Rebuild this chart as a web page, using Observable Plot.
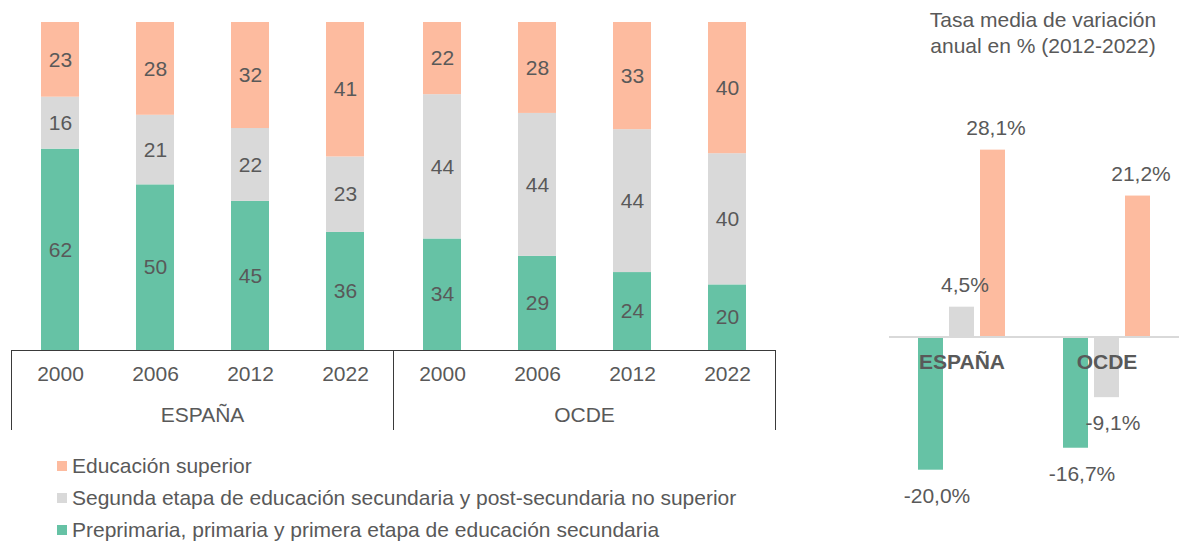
<!DOCTYPE html>
<html><head><meta charset="utf-8">
<script src="https://cdn.jsdelivr.net/npm/d3@7"></script>
<script src="https://cdn.jsdelivr.net/npm/@observablehq/plot@0.6"></script>
<style>
body{margin:0;background:#fff;font-family:"Liberation Sans",Arial,sans-serif;color:#595959;}
#wrap{position:relative;width:1179px;height:542px;overflow:hidden;}
#left{position:absolute;left:0;top:0;}
#right{position:absolute;left:880px;top:0;}
#title{position:absolute;left:880px;width:326px;top:7px;text-align:center;font-size:21px;line-height:26px;}
#legend{position:absolute;left:57px;top:450px;font-size:21px;}
.item{display:flex;align-items:center;height:32px;white-space:nowrap;}
.sw{width:10px;height:10px;margin-right:5px;flex:none;}
</style></head><body>
<div id="wrap">
  <div id="left"></div>
  <div id="right"></div>
  <div id="title">Tasa media de variación<br>anual en % (2012-2022)</div>
  <div id="legend"></div>
</div>
<script>
const countries = ["ESPAÑA", "OCDE"];
const years = ["2000", "2006", "2012", "2022"];
const categories = [
  "Preprimaria, primaria y primera etapa de educación secundaria",
  "Segunda etapa de educación secundaria y post-secundaria no superior",
  "Educación superior"
];
const colors = ["#66C2A5", "#D9D9D9", "#FDBB9F"];
const spainPrimary = [62, 50, 45, 36];
const spainSecondary = [16, 21, 22, 23];
const spainTertiary = [23, 28, 32, 41];
const oecdPrimary = [34, 29, 24, 20];
const oecdSecondary = [44, 44, 44, 40];
const oecdTertiary = [22, 28, 33, 40];
const spainChange = [-20.0, 4.5, 28.1];
const oecdChange = [-16.7, -9.1, 21.2];

const FONT = '"Liberation Sans", Arial, sans-serif';
const TXT = "#595959";
const FS = 21;

const share = [];
countries.forEach((c, ci) => years.forEach((y, yi) => {
  const vals = ci === 0
    ? [spainPrimary[yi], spainSecondary[yi], spainTertiary[yi]]
    : [oecdPrimary[yi], oecdSecondary[yi], oecdTertiary[yi]];
  categories.forEach((cat, k) => share.push({country: c, year: y, cat, value: vals[k]}));
}));

const leftH = 440, leftMB = 90;
const left = Plot.plot({
  width: 785, height: leftH,
  marginTop: 22, marginBottom: leftMB, marginLeft: 10, marginRight: 10,
  style: {fontFamily: FONT, fontSize: FS + "px", color: TXT, background: "white"},
  fx: {domain: countries, padding: 0, axis: null, label: null},
  x: {domain: years, paddingInner: 0.6, paddingOuter: 0.3, axis: null, label: null},
  y: {axis: null},
  color: {domain: categories, range: colors},
  marks: [
    Plot.barY(share, {fx: "country", x: "year", y: "value", fill: "cat", order: categories, offset: "normalize"}),
    Plot.text(share, Plot.stackY({fx: "country", x: "year", y: "value", z: "cat", text: "value",
      order: categories, offset: "normalize", fill: TXT, fontSize: FS})),
    Plot.text(years, {x: d => d, text: d => d, frameAnchor: "bottom", dy: 30, fill: TXT, fontSize: FS}),
    Plot.text(countries, {fx: d => d, text: d => d, frameAnchor: "bottom", dy: 71, fill: TXT, fontSize: FS})
  ]
});
document.getElementById("left").appendChild(left);
{
  const fx = left.scale("fx");
  const base = leftH - leftMB;
  const x0 = fx.apply(countries[0]), x1 = fx.apply(countries[1]), x2 = fx.apply(countries[1]) + fx.bandwidth;
  const g = d3.select(left).append("g").attr("stroke", "#3a3a3a").attr("stroke-width", 1).attr("fill", "none");
  g.append("line").attr("x1", x0).attr("x2", x2).attr("y1", base + 0.5).attr("y2", base + 0.5);
  [x0, x1, x2].forEach(x => g.append("line").attr("x1", x + 0.5).attr("x2", x + 0.5).attr("y1", base).attr("y2", base + 80));
}

const change = [];
countries.forEach((c, ci) => categories.forEach((cat, k) =>
  change.push({country: c, cat, value: (ci === 0 ? spainChange : oecdChange)[k]})));
const loc = d3.formatLocale({decimal: ",", thousands: ".", grouping: [3], currency: ["", "€"], minus: "-"});
const fmt = d => loc.format(".1f")(d.value) + "%";

const right = Plot.plot({
  width: 299, height: 542,
  marginTop: 137, marginBottom: 59, marginLeft: 9, marginRight: 0,
  style: {fontFamily: FONT, fontSize: FS + "px", color: TXT, background: "transparent"},
  fx: {domain: countries, padding: 0, axis: null, label: null},
  x: {domain: categories, paddingInner: 0.2, paddingOuter: 0.88, axis: null, label: null},
  y: {domain: [-22, 30], axis: null},
  color: {domain: categories, range: colors},
  marks: [
    Plot.barY(change, {fx: "country", x: "cat", y: "value", fill: "cat"}),
    Plot.ruleY([0], {stroke: "#D9D9D9", strokeWidth: 2}),
    Plot.text(change.filter(d => d.value >= 0), {fx: "country", x: "cat", y: "value", text: fmt, dy: -22, dx: 3, fill: TXT, fontSize: FS}),
    Plot.text(change.filter(d => d.value < 0), {fx: "country", x: "cat", y: "value", text: fmt, dy: 26, dx: 6, fill: TXT, fontSize: FS}),
    Plot.text(countries, {fx: d => d, y: d => 0, text: d => d, dy: 25, fill: TXT, fontSize: FS, fontWeight: "bold"})
  ]
});
document.getElementById("right").appendChild(right);

const legend = document.getElementById("legend");
[2, 1, 0].forEach(k => {
  const row = document.createElement("div");
  row.className = "item";
  const sw = document.createElement("span");
  sw.className = "sw";
  sw.style.background = colors[k];
  const t = document.createElement("span");
  t.textContent = categories[k];
  row.appendChild(sw); row.appendChild(t);
  legend.appendChild(row);
});
</script>
</body></html>
